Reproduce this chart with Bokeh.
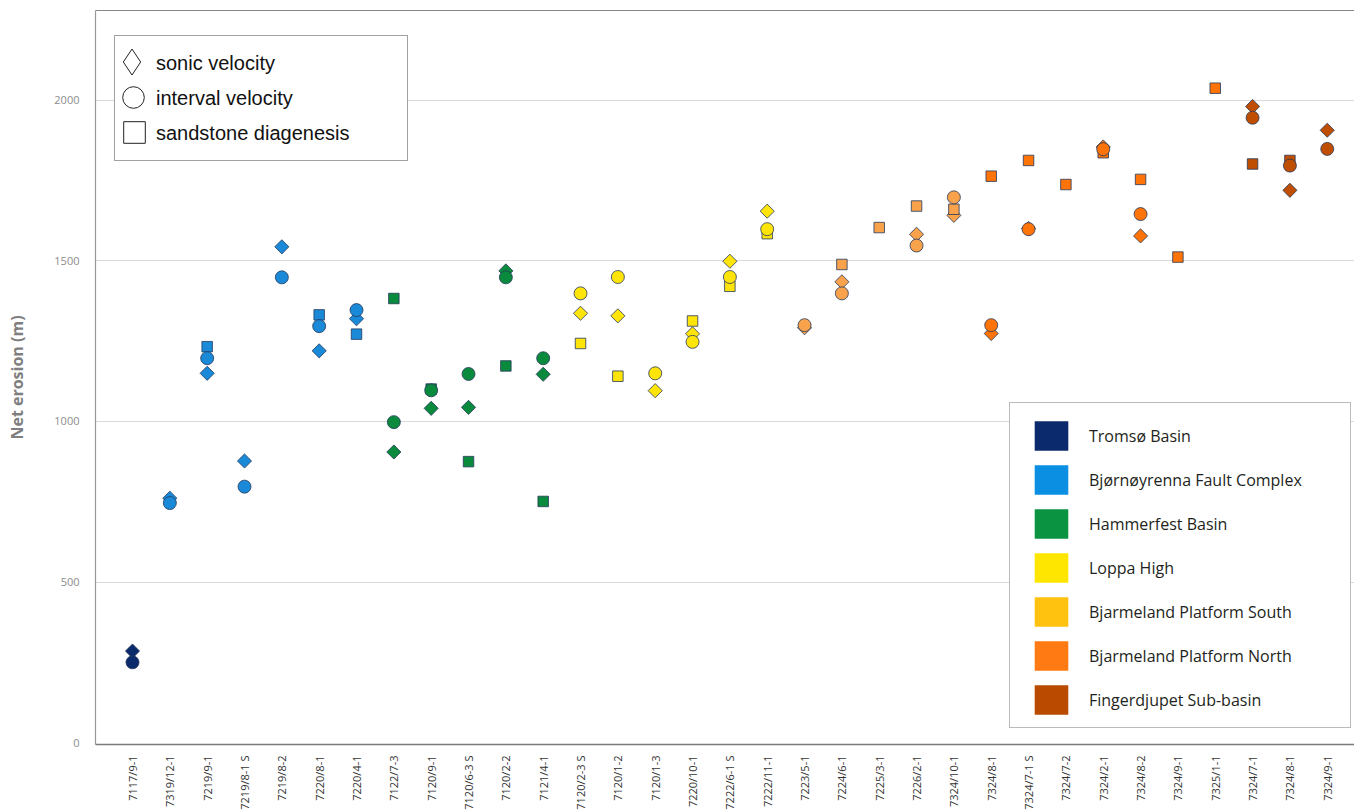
import numpy as np
from bokeh.plotting import figure
from bokeh.models import (ColumnDataSource, Range1d, FixedTicker, LinearAxis,
                          Legend, LegendItem)
from bokeh.embed import file_html
from bokeh.resources import INLINE

nan = float("nan")

wells = ["7117/9-1", "7319/12-1", "7219/9-1", "7219/8-1 S", "7219/8-2", "7220/8-1",
         "7220/4-1", "7122/7-3", "7120/9-1", "7120/6-3 S", "7120/2-2", "7121/4-1",
         "7120/2-3 S", "7120/1-2", "7120/1-3", "7220/10-1", "7222/6-1 S", "7222/11-1",
         "7223/5-1", "7224/6-1", "7225/3-1", "7226/2-1", "7324/10-1", "7324/8-1",
         "7324/7-1 S", "7324/7-2", "7324/2-1", "7324/8-2", "7324/9-1", "7325/1-1",
         "7324/7-1", "7324/8-1", "7324/9-1"]

basins = ["Tromsø Basin", "Bjørnøyrenna Fault Complex", "Hammerfest Basin", "Loppa High",
          "Bjarmeland Platform South", "Bjarmeland Platform North", "Fingerdjupet Sub-basin"]
basin_legend_colors = ["#0b2a6e", "#0a8fe2", "#0a9442", "#ffe600", "#ffc20e", "#ff7a12", "#b94a00"]
basin_marker_colors = ["#0b2a6b", "#1a8ad8", "#0a8a3c", "#ffe40a", "#f8a24c", "#ff7408", "#c04e00"]

well_basin = [0,
              1, 1, 1, 1, 1, 1,
              2, 2, 2, 2, 2,
              3, 3, 3, 3, 3, 3,
              4, 4, 4, 4, 4,
              5, 5, 5, 5, 5, 5, 5,
              6, 6, 6]

sonic_velocity = [285, 761, 1150, 877, 1544, 1220, 1320, 905, 1041, 1044, 1469, 1147,
                  1337, 1329, 1096, 1273, 1499, 1655, 1292, 1435, nan, 1583, 1642, 1274,
                  1601, nan, 1855, 1578, nan, nan, 1981, 1720, 1907]
interval_velocity = [250, 746, 1197, 797, 1449, 1297, 1347, 998, 1097, 1148, 1449, 1197,
                     1399, 1450, 1150, 1248, 1450, 1599, 1300, 1399, nan, 1548, 1698, 1300,
                     1599, nan, 1848, 1646, nan, nan, 1946, 1797, 1849]
sandstone_diagenesis = [nan, nan, 1233, nan, nan, 1332, 1272, 1383, 1101, 875, 1173, 751,
                        1243, 1141, nan, 1313, 1421, 1585, nan, 1489, 1604, 1671, 1661, 1764,
                        1813, 1738, 1837, 1754, 1512, 2038, 1802, 1813, nan]

method_labels = ["sonic velocity", "interval velocity", "sandstone diagenesis"]

y_ticks = [0, 500, 1000, 1500, 2000]

xs = list(range(len(wells)))
src = ColumnDataSource(dict(
    x=xs,
    sonic=sonic_velocity,
    interval=interval_velocity,
    sand=sandstone_diagenesis,
    color=[basin_marker_colors[b] for b in well_basin],
))

p = figure(width=1354, height=812,
           x_range=Range1d(-0.991, 32.73), y_range=Range1d(-6, 2280),
           output_backend="svg", toolbar_location=None,
           min_border_left=95, min_border_right=0, min_border_top=10, min_border_bottom=67)
p.outline_line_color = None
p.background_fill_color = "white"
p.border_fill_color = "white"

p.xgrid.visible = False
p.ygrid.ticker = FixedTicker(ticks=y_ticks[1:])
p.ygrid.grid_line_color = "#dadada"
p.ygrid.grid_line_width = 1

xa = p.xaxis[0]
xa.ticker = FixedTicker(ticks=xs)
xa.major_label_overrides = {i: w for i, w in enumerate(wells)}
xa.major_label_orientation = np.pi / 2
xa.major_label_text_font = "Open Sans"
xa.major_label_text_font_size = "11px"
xa.major_label_text_color = "#333333"
xa.major_label_standoff = 5
xa.major_tick_line_color = None
xa.minor_tick_line_color = None
xa.axis_line_color = "#7a7a7a"
xa.axis_line_width = 1.5

ya = p.yaxis[0]
ya.ticker = FixedTicker(ticks=y_ticks)
ya.major_label_text_font = "Open Sans"
ya.major_label_text_font_size = "11px"
ya.major_label_text_color = "#8c8c8c"
ya.major_label_standoff = 10
ya.major_tick_line_color = None
ya.minor_tick_line_color = None
ya.axis_line_color = "#999999"
ya.axis_line_width = 1.2
ya.axis_label = "Net erosion (m)"
ya.axis_label_text_font = "Open Sans"
ya.axis_label_text_font_style = "bold"
ya.axis_label_text_font_size = "16px"
ya.axis_label_text_color = "#7f7f7f"
ya.axis_label_standoff = 23

top = LinearAxis(ticker=FixedTicker(ticks=[]), major_label_text_font_size="0px",
                 major_tick_line_color=None, minor_tick_line_color=None,
                 major_tick_out=0, major_label_standoff=0,
                 axis_line_color="#888888", axis_line_width=1)
p.add_layout(top, "above")

edge = "#24395c"
p.scatter("x", "sonic", source=src, marker="square", angle=np.pi / 4, size=10,
          fill_color="color", line_color=edge, line_width=0.8)
p.scatter("x", "sand", source=src, marker="square", size=10.5,
          fill_color="color", line_color=edge, line_width=0.8)
p.scatter("x", "interval", source=src, marker="circle", size=13,
          fill_color="color", line_color=edge, line_width=0.8)

# ---- method legend: box + labels ----
blank = ColumnDataSource(dict(x=[nan], y=[nan]))
k_blank = p.scatter("x", "y", source=blank, marker="circle", size=1,
                    fill_alpha=0, line_alpha=0)
leg_box = Legend(items=[LegendItem(label=m, renderers=[k_blank]) for m in method_labels],
                 location=(19, 583), orientation="vertical",
                 glyph_width=30, glyph_height=35, spacing=0,
                 padding=dict(left=0, right=0, top=10, bottom=9),
                 label_standoff=11, label_width=251,
                 label_text_font="Liberation Sans", label_text_font_size="20px",
                 label_text_color="#111111",
                 border_line_color="#444444", border_line_width=1.2,
                 background_fill_color="white", background_fill_alpha=1)
p.add_layout(leg_box)

# ---- method legend keys (one small legend per key) ----
key_specs = [("diamond", 65, (4, 650)),
             ("circle", 54, (11, 620)),
             ("square", 54, (12, 585))]
for mk, g, loc in key_specs:
    kr = p.scatter("x", "y", source=blank, marker=mk, size=10, fill_color="white",
                   line_color="#222222", line_width=1)
    lg = Legend(items=[LegendItem(label="", renderers=[kr])], location=loc,
                glyph_width=g, glyph_height=g, padding=0, label_standoff=0,
                label_width=0, border_line_color=None, background_fill_alpha=0)
    p.add_layout(lg)

# ---- basin colour legend ----
qsrc = ColumnDataSource(dict(l=[nan], r=[nan], t=[nan], b=[nan]))
items2 = []
for name, col in zip(basins, basin_legend_colors):
    r = p.quad(left="l", right="r", top="t", bottom="b", source=qsrc,
               fill_color=col, line_color=None)
    items2.append(LegendItem(label=name, renderers=[r]))

leg2 = Legend(items=items2, location=(914, 16), orientation="vertical",
              glyph_width=42, glyph_height=37, spacing=7,
              padding=dict(left=20, right=0, top=14, bottom=9),
              label_standoff=17, label_width=261,
              label_text_font="Open Sans", label_text_font_size="16px",
              label_text_color="#231f20",
              border_line_color="#777777", border_line_width=1.5,
              background_fill_color="white", background_fill_alpha=1)
p.add_layout(leg2)

open("out.html", "w").write(file_html(p, INLINE))
